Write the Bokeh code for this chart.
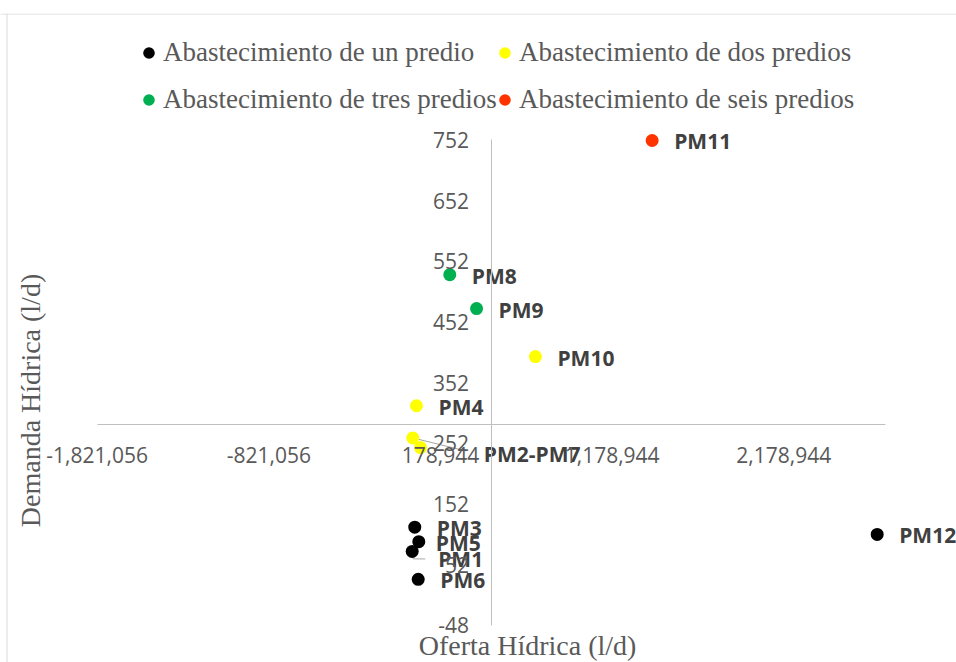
import math
from bokeh.plotting import figure
from bokeh.models import (ColumnDataSource, Range1d, FixedTicker, Legend, LegendItem,
                          Label, Span, NumeralTickFormatter)
from bokeh.embed import file_html
from bokeh.resources import INLINE
from bokeh.core.properties import value, field

# ---------------- data ----------------
pm_un = ["PM1", "PM3", "PM5", "PM6", "PM12"]
x_un = [14000, 29000, 52500, 49000, 2723000]
y_un = [74, 114, 90, 28, 102]

pm_dos = ["PM2", "PM4", "PM7", "PM10"]
x_dos = [17500, 39000, 62500, 732000]
y_dos = [261, 314, 245, 395]

pm_tres = ["PM8", "PM9"]
x_tres = [233000, 389000]
y_tres = [530, 474]

pm_seis = ["PM11"]
x_seis = [1412000]
y_seis = [751]

# data-label texts (PM2 and PM7 share one label)
label_text = {"PM2": "PM2-PM7", "PM7": ""}

series_names = ["Abastecimiento de un predio", "Abastecimiento de dos predios",
                "Abastecimiento de tres predios", "Abastecimiento de seis predios"]

x_ticks = [-1821056, -821056, 178944, 1178944, 2178944]
y_ticks = [-48, 52, 152, 252, 352, 452, 552, 652, 752]

# ---------------- layout / style ----------------
W, H = 956, 662
TOP = 13
X0, X1 = -2384411, 3185054
Y0, Y1 = -109.0, 960.2
X_CROSS, Y_CROSS = 478944, 283
X_BOUNDS = (-1821056, 2771000)
Y_BOUNDS = (-48, 752)

colors = ["#000000", "#FFFF00", "#00B050", "#FF3300"]
TXT = "#595959"
LBL = "#404040"
AXC = "#BFBFBF"

p = figure(width=W, height=H, x_range=Range1d(X0, X1), y_range=Range1d(Y0, Y1),
           output_backend="svg", toolbar_location=None,
           min_border_left=0, min_border_right=0, min_border_bottom=0, min_border_top=TOP,
           background_fill_color="white", border_fill_color="white")
p.outline_line_color = None
p.grid.visible = False

# axes crossing inside the plot
for ax in (p.xaxis[0], p.yaxis[0]):
    ax.axis_line_color = AXC
    ax.axis_line_width = 1
    ax.major_tick_line_color = None
    ax.minor_tick_line_color = None
    ax.major_tick_out = 0
    ax.major_tick_in = 0
    ax.major_label_text_font = "Open Sans"
    ax.major_label_text_font_size = "21px"
    ax.major_label_text_color = TXT

p.xaxis[0].fixed_location = Y_CROSS
p.xaxis[0].bounds = X_BOUNDS
p.xaxis[0].ticker = FixedTicker(ticks=x_ticks)
p.xaxis[0].formatter = NumeralTickFormatter(format="0,0")
p.xaxis[0].major_label_standoff = 22

p.yaxis[0].fixed_location = X_CROSS
p.yaxis[0].bounds = Y_BOUNDS
p.yaxis[0].ticker = FixedTicker(ticks=y_ticks)
p.yaxis[0].formatter = NumeralTickFormatter(format="0")
p.yaxis[0].major_label_standoff = 23

# chart-area border (top and left only visible in the reference)
p.add_layout(Span(location=H - TOP - 0.5, location_units="screen", dimension="width",
                  line_color="#D9D9D9", line_width=1))
p.add_layout(Span(location=6.5, location_units="screen", dimension="height",
                  line_color="#D9D9D9", line_width=1))

# px -> data conversion (for leader lines only)
dxpp = (X1 - X0) / W
dypp = (Y1 - Y0) / (H - TOP)

# leader lines
i2 = pm_dos.index("PM2")
p.line([x_dos[i2], x_dos[i2] + 53 * dxpp], [y_dos[i2], y_dos[i2] - 13 * dypp],
       line_color="#A6A6A6", line_width=1)
i1 = pm_un.index("PM1")
p.line([x_un[i1], x_un[i1] + 1 * dxpp, x_un[i1] + 13 * dxpp],
       [y_un[i1], y_un[i1] - 7.5 * dypp, y_un[i1] - 7.5 * dypp],
       line_color="#A6A6A6", line_width=1)

# scatter series
groups = [(pm_un, x_un, y_un), (pm_dos, x_dos, y_dos),
          (pm_tres, x_tres, y_tres), (pm_seis, x_seis, y_seis)]
renderers = []
for (names, xs, ys), c in zip(groups, colors):
    src = ColumnDataSource(dict(x=xs, y=ys, name=names))
    r = p.scatter("x", "y", source=src, size=13, fill_color=c, line_color=None)
    renderers.append(r)

# data labels
label_offsets = {"PM1": (26, 8), "PM2": (71, 16), "PM5": (17, 1)}
lx, ly, lt, lxo, lyo = [], [], [], [], []
for names, xs, ys in groups:
    for n, xv, yv in zip(names, xs, ys):
        lx.append(xv)
        ly.append(yv)
        lt.append(label_text.get(n, n))
        ox, oy = label_offsets.get(n, (22, 1))
        lxo.append(ox)
        lyo.append(oy)
lsrc = ColumnDataSource(dict(x=lx, y=ly, text=lt, xo=lxo, yo=lyo))
p.text("x", "y", text="text", source=lsrc, x_offset=field("xo"), y_offset=field("yo"),
       text_font=value("Open Sans"), text_font_style="bold", text_font_size="21px",
       text_color=LBL, text_align="left", text_baseline="middle")

# legend: two columns
def make_legend(items, x):
    lg = Legend(items=items, location=(x, 546), orientation="vertical",
                glyph_width=29, glyph_height=33, label_height=33, label_standoff=0,
                spacing=14, padding=0, margin=0,
                label_text_font="Liberation Serif", label_text_font_size="27px",
                label_text_color=TXT, border_line_color=None, background_fill_alpha=0)
    return lg

legA = make_legend([LegendItem(label=series_names[0], renderers=[renderers[0]]),
                    LegendItem(label=series_names[2], renderers=[renderers[2]])], 134)
legB = make_legend([LegendItem(label=series_names[1], renderers=[renderers[1]]),
                    LegendItem(label=series_names[3], renderers=[renderers[3]])], 490)
p.add_layout(legA)
p.add_layout(legB)

# axis titles
p.add_layout(Label(x=527, y=17, x_units="screen", y_units="screen",
                   text="Oferta Hídrica (l/d)", text_font="Liberation Serif",
                   text_font_size="28px", text_color=TXT, text_align="center",
                   text_baseline="alphabetic"))
p.add_layout(Label(x=30, y=262, x_units="screen", y_units="screen", angle=math.pi / 2,
                   text="Demanda Hídrica (l/d)", text_font="Liberation Serif",
                   text_font_size="28px", text_color=TXT, text_align="center",
                   text_baseline="alphabetic"))

open("out.html", "w").write(file_html(p, INLINE))
